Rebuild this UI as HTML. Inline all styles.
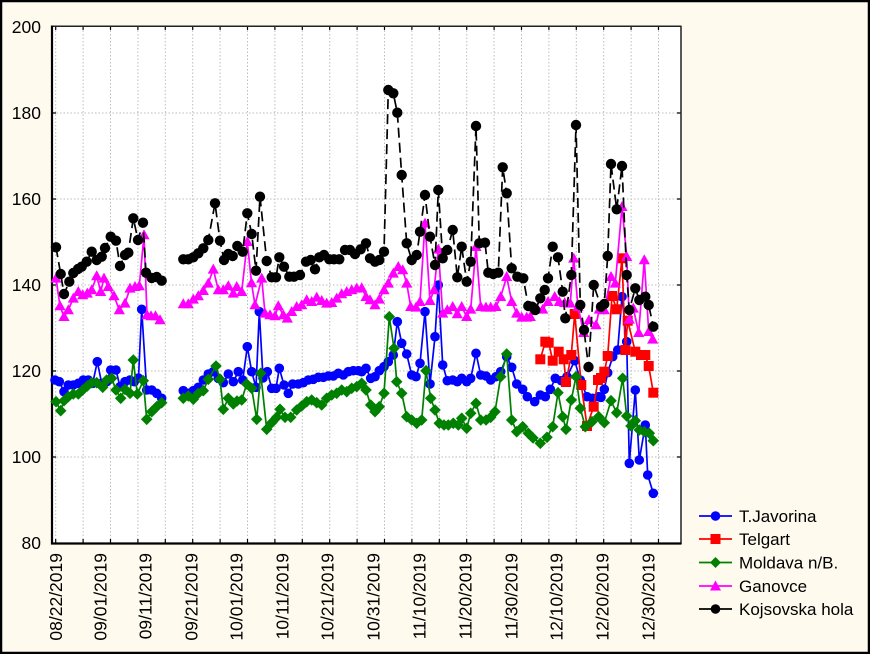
<!DOCTYPE html>
<html><head><meta charset="utf-8"><style>
html,body{margin:0;padding:0;background:#fefaee;}
svg{display:block;font-family:"Liberation Sans",Arial,sans-serif;}
</style></head><body>
<svg width="870" height="654" viewBox="0 0 870 654" xmlns="http://www.w3.org/2000/svg">
<defs>
<marker id="mb" markerUnits="userSpaceOnUse" markerWidth="12" markerHeight="12" refX="6" refY="6" overflow="visible"><circle cx="6" cy="6" r="4.8" fill="#0000ff"/></marker>
<marker id="mr" markerUnits="userSpaceOnUse" markerWidth="12" markerHeight="12" refX="6" refY="6" overflow="visible"><rect x="1" y="1" width="10" height="10" fill="#ff0000"/></marker>
<marker id="mg" markerUnits="userSpaceOnUse" markerWidth="12" markerHeight="12" refX="6" refY="6" overflow="visible"><polygon points="6,0.2 11.8,6 6,11.8 0.2,6" fill="#008000"/></marker>
<marker id="mm" markerUnits="userSpaceOnUse" markerWidth="12" markerHeight="12" refX="6" refY="6" overflow="visible"><polygon points="6,0.3 11.6,10.3 0.4,10.3" fill="#ff00ff"/></marker>
<marker id="mk" markerUnits="userSpaceOnUse" markerWidth="12" markerHeight="12" refX="6" refY="6" overflow="visible"><circle cx="6" cy="6" r="5.2" fill="#000"/></marker>
</defs>
<rect x="0" y="0" width="870" height="654" fill="#fefaee"/>
<rect x="1" y="1" width="868" height="652" fill="none" stroke="#000" stroke-width="2.5"/>
<rect x="52" y="26" width="629" height="517" fill="#fff"/>
<g stroke="#bdbdbd" stroke-width="1" stroke-dasharray="1.5,2" fill="none">
<line x1="53" y1="113" x2="681" y2="113"/><line x1="53" y1="199" x2="681" y2="199"/><line x1="53" y1="285" x2="681" y2="285"/><line x1="53" y1="371" x2="681" y2="371"/><line x1="53" y1="457" x2="681" y2="457"/>
<line x1="55.7" y1="27" x2="55.7" y2="543"/><line x1="83.1" y1="27" x2="83.1" y2="543"/><line x1="110.5" y1="27" x2="110.5" y2="543"/><line x1="137.9" y1="27" x2="137.9" y2="543"/><line x1="165.3" y1="27" x2="165.3" y2="543"/><line x1="192.7" y1="27" x2="192.7" y2="543"/><line x1="220.1" y1="27" x2="220.1" y2="543"/><line x1="247.5" y1="27" x2="247.5" y2="543"/><line x1="274.9" y1="27" x2="274.9" y2="543"/><line x1="302.3" y1="27" x2="302.3" y2="543"/><line x1="329.7" y1="27" x2="329.7" y2="543"/><line x1="357.1" y1="27" x2="357.1" y2="543"/><line x1="384.5" y1="27" x2="384.5" y2="543"/><line x1="411.9" y1="27" x2="411.9" y2="543"/><line x1="439.3" y1="27" x2="439.3" y2="543"/><line x1="466.7" y1="27" x2="466.7" y2="543"/><line x1="494.1" y1="27" x2="494.1" y2="543"/><line x1="521.5" y1="27" x2="521.5" y2="543"/><line x1="548.9" y1="27" x2="548.9" y2="543"/><line x1="576.3" y1="27" x2="576.3" y2="543"/><line x1="603.7" y1="27" x2="603.7" y2="543"/><line x1="631.1" y1="27" x2="631.1" y2="543"/><line x1="658.5" y1="27" x2="658.5" y2="543"/>
</g>
<g stroke="#000" stroke-width="1.2">
<path d="M55.7,543v-4M83.1,543v-4M110.5,543v-4M137.9,543v-4M165.3,543v-4M192.7,543v-4M220.1,543v-4M247.5,543v-4M274.9,543v-4M302.3,543v-4M329.7,543v-4M357.1,543v-4M384.5,543v-4M411.9,543v-4M439.3,543v-4M466.7,543v-4M494.1,543v-4M521.5,543v-4M548.9,543v-4M576.3,543v-4M603.7,543v-4M631.1,543v-4M658.5,543v-4"/>
<path d="M55.7,26v4M83.1,26v4M110.5,26v4M137.9,26v4M165.3,26v4M192.7,26v4M220.1,26v4M247.5,26v4M274.9,26v4M302.3,26v4M329.7,26v4M357.1,26v4M384.5,26v4M411.9,26v4M439.3,26v4M466.7,26v4M494.1,26v4M521.5,26v4M548.9,26v4M576.3,26v4M603.7,26v4M631.1,26v4M658.5,26v4"/>
<path d="M52,113h4M52,199h4M52,285h4M52,371h4M52,457h4M681,113h-4M681,199h-4M681,285h-4M681,371h-4M681,457h-4"/>
</g>
<line x1="52" y1="26.2" x2="681.5" y2="26.2" stroke="#222" stroke-width="1.5"/>
<line x1="681" y1="26" x2="681" y2="544" stroke="#222" stroke-width="1.5"/>
<line x1="52" y1="25.5" x2="52" y2="544.5" stroke="#000" stroke-width="2.2"/>
<line x1="51" y1="543.5" x2="681.5" y2="543.5" stroke="#000" stroke-width="2.2"/>

<g font-size="17.5" fill="#000" text-anchor="end">
<text x="41" y="33">200</text><text x="41" y="119">180</text><text x="41" y="205">160</text><text x="41" y="291">140</text><text x="41" y="377">120</text><text x="41" y="463">100</text><text x="41" y="549">80</text>
</g>
<g font-size="17.5" fill="#000" text-anchor="end">
<text transform="translate(62,553) rotate(-90)">08/22/2019</text>
<text transform="translate(106.5,553) rotate(-90)">09/01/2019</text>
<text transform="translate(151.5,553) rotate(-90)">09/11/2019</text>
<text transform="translate(197.5,553) rotate(-90)">09/21/2019</text>
<text transform="translate(242.5,553) rotate(-90)">10/01/2019</text>
<text transform="translate(288.5,553) rotate(-90)">10/11/2019</text>
<text transform="translate(333.5,553) rotate(-90)">10/21/2019</text>
<text transform="translate(379.5,553) rotate(-90)">10/31/2019</text>
<text transform="translate(425.5,553) rotate(-90)">11/10/2019</text>
<text transform="translate(471.5,553) rotate(-90)">11/20/2019</text>
<text transform="translate(517.5,553) rotate(-90)">11/30/2019</text>
<text transform="translate(562.5,553) rotate(-90)">12/10/2019</text>
<text transform="translate(608.5,553) rotate(-90)">12/20/2019</text>
<text transform="translate(654.5,553) rotate(-90)">12/30/2019</text>
</g>

<!-- T.Javorina -->
<g fill="none" stroke="#0000ff" stroke-width="1.7" marker-start="url(#mb)" marker-mid="url(#mb)" marker-end="url(#mb)">
<polyline points="55,380 59.3,381.7 64,391.7 68.3,385 73.3,385 78.3,383.3 83.3,380 88.3,380 92.7,383.3 97.3,361.7 101.7,383.3 106.7,381.7 110.7,370 116,370 120,386.7 125,381.7 130,380 134.3,381.7 138.5,378 141.7,309.3 146.7,390 151.7,390 156.7,393.3 161.7,398.3"/>
<polyline points="183.3,390.7 188.3,393.3 193.3,390.7 198.3,387.3 203.3,380 208.3,374 213.3,371.7 218.3,378.3 223.3,382.7 228.3,374 233.3,381.7 238.3,371.7 242.7,380 247.3,346.7 251.7,371.7 256,387.3 259.3,311.7 263,378 267.3,371.7 271.7,388.3 276,388.3 279.3,368.3 284,385 288.3,393.3 292.7,384 298.3,384 303.3,382.7 308.3,380 313.3,379.3 318.3,377.3 323.3,377.3 328.3,376 333.3,376 338.3,373.3 343.3,375 348.3,371.7 353.3,370.7 358.3,370.7 361.7,371.7 366,368.3 370.7,378.3 375,376.7 379.3,370.7 384,366.7 388.3,361.7 393.3,355 397.3,321.7 401.7,343.3 406.7,354 411.7,375 416,376.7 420,363.3 425,311.7 430,384 435,336.7 438.3,285 442.7,365 447.3,380.7 452.7,380 457.3,381.7 461.7,378.3 466.7,381.7 470.7,378.3 476,353.3 480.7,375 486,376 490.7,380 496,376.7 500.7,371.7 506.7,356.7 511.7,367.3 516.7,384 522.7,389.3 527.3,396.7 534.7,401.7 540.3,395 545.3,396.7 550.3,389.3 555.3,378.3 561.3,380.7 567,376.7 574.7,360.7 580.3,380 587,396.7 592.7,398.3 598.7,396.7 601,397.3 604.3,389.3 607.7,372.7 612.7,356.7 617.7,350 622,296.7 626.7,341.7 629.3,463.3 635.3,390 639.3,460 645.3,425 647.7,475 653.3,493.3"/>
</g>
<!-- Telgart -->
<g fill="none" stroke="#ff0000" stroke-width="1.7" marker-start="url(#mr)" marker-mid="url(#mr)" marker-end="url(#mr)">
<polyline points="540.3,359.3 545.3,341.7 548.7,342.7 552.7,360.7 558.7,351.7 563.7,359.3 566,382 571.3,355 574.7,314 581.3,385 587,426 593.7,406.7 598,380 601,378 604.3,371.7 607.7,356 612,296 616.7,309.3 622,258.3 625.3,350 627.7,320.7 635.3,351.7 641,355 645.3,355 648.7,366 653.3,392.7"/>
</g>
<!-- Moldava -->
<g fill="none" stroke="#008000" stroke-width="1.7" marker-start="url(#mg)" marker-mid="url(#mg)" marker-end="url(#mg)">
<polyline points="56,401.7 60.7,410.7 64,400.7 68.3,396.7 73.3,394 78.3,394 82.7,390 87.3,386 91.7,382.7 96.7,382.7 102.7,387.3 106.7,380 111.7,378.3 116,390 120.7,398.3 125,389.3 130,393.3 133.3,360 137.3,394 143.3,380.7 146.7,419.3 151.7,411.7 156.7,406.7 161.7,402.7"/>
<polyline points="183.3,398.3 188.3,396 193.3,399.3 198.3,393.3 203.3,390.7 208.3,379.3 216,366 220,379.3 223.3,409.3 228.3,398.3 233.3,404 237,401 241.7,400 246.7,384 251.7,388.3 256.7,419.3 260.7,373.3 266.7,429.3 271.7,422.7 276.7,417.3 280,409.3 285,417.3 290.7,417.3 296.7,410 301.7,406 306.7,401.7 311.7,400 316.7,402.7 321.7,405 326.7,398.3 331.7,395 336.7,393.3 341.7,390 346.7,391.7 351.7,388.3 356.7,386.7 361.7,383.3 366,390 370.7,405 375,411.7 379.3,406.7 384,393.3 389.3,316.7 394,348.3 396.7,381.7 401.7,393.3 406.7,416.7 411.7,420 416.7,423.3 421.7,420 426,370.7 430.7,398.3 435,410 439.3,423.3 444,425 448.3,425 453.3,423.3 458.3,425 461.7,418.3 466.7,428.3 470.7,413.3 476,403.3 480.7,420 486,420 490.7,417.3 495,411.7 500.7,376.7 506.7,354 511.7,420 516.7,431.7 522.7,426.7 528.3,433.3 533,438 540.3,443.3 547,437.3 552.7,426.7 558,392.7 562.7,416.7 566,429.3 571.3,400 576,376.7 580.3,408.3 585.3,426.7 592,421.7 598.7,416.7 604.3,422.7 611,400.7 616.7,412.7 622.7,378.3 626.7,416 631,426 635.3,420.7 639.3,430 644.3,431.7 649.3,433.3 653.3,440.7"/>
</g>
<!-- Ganovce -->
<g fill="none" stroke="#ff00ff" stroke-width="1.7" marker-start="url(#mm)" marker-mid="url(#mm)" marker-end="url(#mm)">
<polyline points="56,278.3 60,306 64,316.7 68.3,310 73.3,298.3 78.3,291.7 82.7,295 87.3,293.3 91.7,290 96.7,276 100.7,291.7 104,278.3 108.3,286.7 114,296 119.3,310 125,303.3 130,288.3 135,286.7 139.3,286 144,235 147,315 151,316 155.5,316 160,320"/>
<polyline points="183.3,304 188.3,304 193.3,299.3 198.3,296 203.3,290.7 208.3,283.3 213.3,269.3 218.3,290 223.3,290 228.3,286 233.3,293.3 236.7,286.7 241.7,291.7 247.3,241.7 251.5,283 255,305 261.7,278.3 265,313.3 270,315 275,316 278.3,306 283.3,315 287.3,318.3 291.7,311.7 296.7,306.7 301.7,305 306.7,300 311.7,301.7 316.7,297.3 321.7,300.7 326.7,303.3 331.7,302.7 336.7,298.3 341.7,294 346.7,291.7 351.7,290 356.7,288.3 361.7,288 366,296.7 370,300 375,305 379.3,299.3 384,290 388.3,283.3 393.3,273.3 398.3,266.7 402.7,270 406.7,283.3 410.7,306.7 416,307.3 420,301.7 425,223.3 430,300.7 434,290 438.3,249.3 442.7,313.3 447.3,310 452.7,306.7 457.3,314 461.7,306.7 466.7,316.7 470.7,309.3 476,246.7 480.7,306.7 486,307.3 490.7,307.3 496,306.7 500.7,296.7 506.7,276.7 511.7,301.7 516.7,313.3 521.7,317.3 526.7,317.3 530.3,316.7 537,308.3 542.7,309.3 548,301.7 554.7,296.7 559.3,301.7 564.7,302.7 570.3,303.3 573.7,258.3 578,306.7 583.7,332.7 589,320 596,325 599.3,309.3 604.3,310 611,276.7 615.3,283.3 622,206.7 626.7,256.7 629.3,319.3 633.3,308.3 638.7,332.7 644.3,260 648.7,331.7 652.7,339.3"/>
</g>
<!-- Kojsovska hola -->
<g fill="none" stroke="#000" stroke-width="1.7" stroke-dasharray="10,5" marker-start="url(#mk)" marker-mid="url(#mk)" marker-end="url(#mk)">
<polyline points="56,247.3 60.7,274 64,294 69.3,281.7 73.3,273 78,269 81.7,266.7 86.7,261.7 91.7,251.7 96.7,260 101.7,256.7 105,248 110.7,236.7 116,240.7 120,266 125,255 128.3,252.7 133.3,218.3 138,240 143,222.7 146,272.7 151.7,278 156.7,277 161.7,280.7"/>
<polyline points="183.3,259.3 188.3,259.3 193.3,257.3 198.3,253.3 203.3,248.3 208.3,240 215,203.3 220,240.7 224,260 228.3,254 232.7,256 237.3,246 242.7,251.7 247.3,213.3 251.7,234 256,270.7 260,196.7 266.7,261 271.7,277.3 276,277.3 279.3,257.3 284,266.7 289.3,276.7 294,276.7 300,275 306,261.7 310.7,260 315,269.3 319.3,257.3 324,255 329.3,259.3 334,259.3 339.3,259.3 345,250 350,250 355,254 360.7,249.3 366,243.3 370,258.3 375,261.7 379.3,260 384,251.7 388.3,90 393.3,93.3 397.3,112.7 401.7,175 406.7,243.3 411.7,260 416.7,255 420,231.7 425,195 430,236.7 435,265 438.3,190 442.7,258.3 447.3,250 452.7,230 457.3,277.3 461.7,246.7 466.7,281.7 470.7,261.7 476,126 479.3,243.3 485,242.7 488.3,272.7 493.3,274 498.3,272.7 502.7,167.3 506.7,193.3 511.7,268.3 517.3,276.7 523.3,278.3 528.3,306 532,306.7 535.3,310 540.3,298.3 544.7,290 548,278.3 552.7,246.7 558,257.3 562.7,291.7 565.3,318.3 571.3,275 576,125 580.3,305 584,330 588.5,367 593.7,285 601,306.7 604.3,304 607.7,256 611,164 616.7,209.3 622,166 626.7,275 629.3,310 635.3,288.3 639.3,300 645.3,296.7 648.7,305 653.3,326.7"/>
</g>

<!-- Legend -->
<g stroke-width="1.7">
<line x1="699" y1="516" x2="732" y2="516" stroke="#0000ff"/>
<line x1="699" y1="539" x2="732" y2="539" stroke="#ff0000"/>
<line x1="699" y1="562.5" x2="732" y2="562.5" stroke="#008000"/>
<line x1="699" y1="586" x2="732" y2="586" stroke="#ff00ff"/>
<line x1="699" y1="609" x2="732" y2="609" stroke="#000"/>
</g>
<circle cx="715.5" cy="516" r="4.8" fill="#0000ff"/>
<rect x="710.5" y="534" width="10" height="10" fill="#ff0000"/>
<polygon points="715.5,557 721,562.5 715.5,568 710,562.5" fill="#008000"/>
<polygon points="715.5,580.5 721,590.5 710,590.5" fill="#ff00ff"/>
<circle cx="715.5" cy="609" r="4.8" fill="#000"/>
<g font-size="17" fill="#000">
<text x="739" y="522">T.Javorina</text>
<text x="739" y="545">Telgart</text>
<text x="739" y="568.5">Moldava n/B.</text>
<text x="739" y="592">Ganovce</text>
<text x="739" y="615">Kojsovska hola</text>
</g>
</svg>
</body></html>
